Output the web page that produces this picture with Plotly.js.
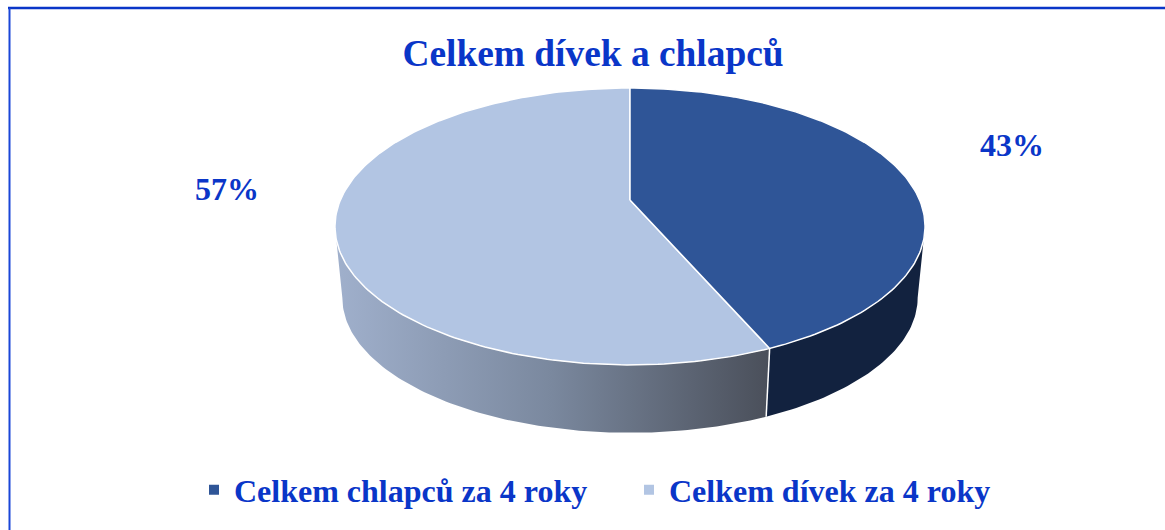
<!DOCTYPE html>
<html>
<head>
<meta charset="utf-8">
<script src="https://cdn.plot.ly/plotly-3.0.1.min.js"></script>
<style>html,body{margin:0;padding:0;background:#fff;overflow:hidden}#chart{width:1165px;height:530px}</style>
</head>
<body>
<div id="chart"></div>
<script>
// Data
const categories = ['Celkem chlapců za 4 roky', 'Celkem dívek za 4 roky'];
const shares = [43.49, 56.51];
const topColors = ['#2f5597', '#b2c5e3'];
const chartTitle = 'Celkem dívek a chlapců';
const labelColor = '#0a36c8';
const serif = '"Liberation Serif", "Times New Roman", serif';

// Perspective view of the disc, in picture units
const cx = 630, apexY = 200, k = 0.191, radiusY = 133.4, radiusX = 289.6;
const wallDrop = 72, wallScale = 0.975;

function project(deg, lower) {
  const t = deg * Math.PI / 180, u = Math.sin(t), v = Math.cos(t), d = 1 + k * v;
  const s = lower ? wallScale : 1, oy = lower ? apexY + wallDrop : apexY;
  return [cx + s * radiusX * u / d, oy - s * radiusY * v / d];
}
function arc(a, b, lower) {
  const pts = [], n = Math.max(2, Math.ceil(Math.abs(b - a)));
  for (let i = 0; i <= n; i++) pts.push(project(a + (b - a) * i / n, lower));
  return pts;
}
const xs = p => p.map(q => q[0]), ys = p => p.map(q => q[1]);

const split = shares[0] / (shares[0] + shares[1]) * 360;
const tangent = 90 + Math.asin(k) * 180 / Math.PI;   // widest point of the rim

function wall(a, b) {
  return arc(a, b, false).concat(arc(b, a, true));
}
const wallDark = wall(tangent, split);
const wallLight = wall(split, 360 - tangent);
const sliceA = [[cx, apexY]].concat(arc(0, split, false)).concat([[cx, apexY]]);
const sliceB = [[cx, apexY]].concat(arc(split, 360, false)).concat([[cx, apexY]]);
const seam = [project(split, false), project(split, true)];

const base = {type: 'scatter', mode: 'lines', hoverinfo: 'skip', showlegend: false};
const traces = [
  Object.assign({}, base, {x: xs(wallDark), y: ys(wallDark), fill: 'toself',
    fillcolor: '#12223f', line: {width: 0}}),
  Object.assign({}, base, {x: xs(wallLight), y: ys(wallLight), fill: 'toself',
    fillgradient: {type: 'horizontal', colorscale: [[0, '#a0b0cc'], [0.5, '#7a889e'], [1, '#4a4f5a']]},
    line: {width: 0}}),
  Object.assign({}, base, {x: xs(seam), y: ys(seam), line: {color: '#ffffff', width: 1.5}}),
  Object.assign({}, base, {x: xs(sliceB), y: ys(sliceB), fill: 'toself', fillcolor: topColors[1],
    line: {color: '#ffffff', width: 1.5}}),
  Object.assign({}, base, {x: xs(sliceA), y: ys(sliceA), fill: 'toself', fillcolor: topColors[0],
    line: {color: '#ffffff', width: 1.5}})
];
categories.forEach((name, i) => traces.push({
  type: 'scatter', mode: 'markers', x: [null], y: [null], name: name,
  marker: {symbol: 'square', size: 10, color: topColors[i]}, hoverinfo: 'skip'
}));

const layout = {
  width: 1165, height: 530,
  margin: {l: 0, r: 0, t: 0, b: 0},
  paper_bgcolor: '#ffffff', plot_bgcolor: '#ffffff',
  xaxis: {range: [0, 1165], visible: false, fixedrange: true},
  yaxis: {range: [530, 0], visible: false, fixedrange: true},
  title: {text: chartTitle, font: {family: serif, size: 37.4, color: labelColor, weight: 'bold'},
    x: 593 / 1165, xanchor: 'center', xref: 'paper', y: 1 - 53 / 530, yanchor: 'middle', yref: 'paper'},
  legend: {
    orientation: 'h', x: 209 / 1165, xanchor: 'left', y: 1 - 490 / 530, yanchor: 'middle',
    font: {family: serif, size: 32, color: labelColor, weight: 'bold'},
    entrywidth: 405, entrywidthmode: 'pixels', indentation: -15, traceorder: 'normal',
    bgcolor: 'rgba(0,0,0,0)'
  },
  annotations: [
    {x: 1012, y: 145, text: shares[0].toFixed(0) + '%'},
    {x: 227, y: 189, text: shares[1].toFixed(0) + '%'}
  ].map(a => ({x: a.x, y: a.y, text: a.text, xref: 'x', yref: 'y', showarrow: false,
    xanchor: 'center', yanchor: 'middle',
    font: {family: serif, size: 32, color: labelColor, weight: 'bold'}})),
  shapes: [
    {type: 'line', xref: 'x', yref: 'y', x0: 8, x1: 1165, y0: 8, y1: 8, line: {color: '#0a36c8', width: 2.5}},
    {type: 'line', xref: 'x', yref: 'y', x0: 9.5, x1: 9.5, y0: 8, y1: 530, line: {color: '#1a46d8', width: 2}}
  ]
};
Plotly.newPlot('chart', traces, layout, {displayModeBar: false, staticPlot: true});
</script>
</body>
</html>
